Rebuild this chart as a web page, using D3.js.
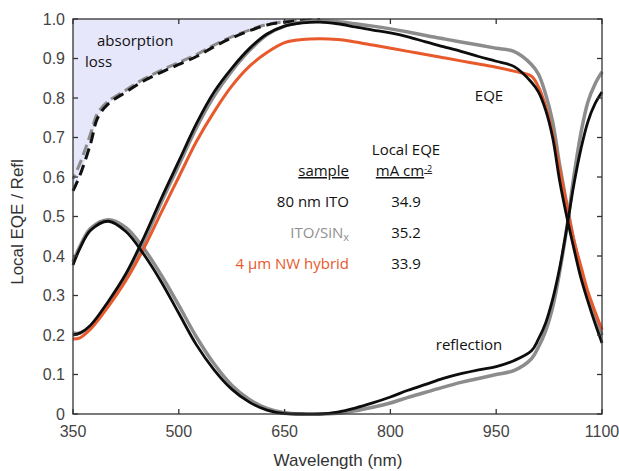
<!DOCTYPE html>
<html>
<head>
<meta charset="utf-8">
<script src="https://cdn.jsdelivr.net/npm/d3@7"></script>
<style>
  body { margin: 0; background: #fff; }
  svg { display: block; }
</style>
</head>
<body>
<div id="stage"></div>
<script>
// wavelength grid (nm) shared by the solid curves
const wl = [350, 360, 375, 400, 425, 450, 475, 500, 525, 550, 575, 600, 625, 650, 675, 700,
  725, 750, 775, 800, 825, 850, 875, 900, 925, 950, 975, 1000, 1010, 1020, 1030, 1040,
  1050, 1060, 1070, 1080, 1090, 1100];

// local EQE
const eqeITO = [0.20, 0.205, 0.225, 0.285, 0.355, 0.445, 0.545, 0.64, 0.735, 0.815, 0.875, 0.925,
  0.962, 0.982, 0.99, 0.992, 0.988, 0.98, 0.972, 0.965, 0.955, 0.942, 0.93, 0.918, 0.905, 0.893,
  0.88, 0.84, 0.815, 0.77, 0.70, 0.59, 0.50, 0.42, 0.345, 0.285, 0.23, 0.18];
const eqeSiN = [0.205, 0.205, 0.222, 0.28, 0.35, 0.435, 0.535, 0.63, 0.725, 0.805, 0.868, 0.92,
  0.96, 0.982, 0.992, 0.995, 0.993, 0.988, 0.982, 0.975, 0.967, 0.958, 0.95, 0.942, 0.934, 0.926,
  0.918, 0.885, 0.86, 0.81, 0.74, 0.63, 0.53, 0.44, 0.365, 0.30, 0.245, 0.20];
const eqeNW = [0.19, 0.193, 0.215, 0.272, 0.338, 0.418, 0.51, 0.60, 0.69, 0.765, 0.83, 0.88,
  0.915, 0.94, 0.948, 0.95, 0.948, 0.942, 0.934, 0.926, 0.918, 0.91, 0.902, 0.894, 0.886, 0.878,
  0.868, 0.855, 0.828, 0.78, 0.71, 0.62, 0.53, 0.44, 0.375, 0.31, 0.26, 0.213];

// reflection
const reflITO = [0.377, 0.42, 0.465, 0.488, 0.462, 0.405, 0.335, 0.255, 0.175, 0.112, 0.063, 0.03,
  0.01, 0.001, 0.0, 0.0, 0.005, 0.015, 0.028, 0.043, 0.06, 0.075, 0.09, 0.102, 0.112, 0.12,
  0.135, 0.16, 0.19, 0.23, 0.29, 0.37, 0.47, 0.58, 0.67, 0.74, 0.785, 0.815];
const reflSiN = [0.385, 0.425, 0.47, 0.492, 0.472, 0.42, 0.352, 0.275, 0.195, 0.127, 0.073, 0.037,
  0.014, 0.003, 0.0, 0.0, 0.002, 0.008, 0.017, 0.028, 0.042, 0.055, 0.068, 0.08, 0.09, 0.10,
  0.11, 0.14, 0.17, 0.21, 0.27, 0.36, 0.47, 0.60, 0.71, 0.79, 0.835, 0.866];

// absorption limit (dashed)
const limWl = [350, 360, 375, 385, 400, 425, 450, 475, 500, 525, 550, 575, 600, 625, 650, 675, 700];
const limITO = [0.565, 0.605, 0.685, 0.75, 0.785, 0.815, 0.843, 0.865, 0.885, 0.905, 0.93, 0.952,
  0.97, 0.985, 0.992, 0.996, 0.998];
const limSiN = [0.595, 0.635, 0.71, 0.762, 0.792, 0.82, 0.848, 0.87, 0.89, 0.91, 0.934, 0.955,
  0.972, 0.986, 0.993, 0.997, 0.998];

const xTicks = [350, 500, 650, 800, 950, 1100];
const yTicks = [0, 0.1, 0.2, 0.3, 0.4, 0.5, 0.6, 0.7, 0.8, 0.9, 1.0];

const tableRows = [
  {sample: '80 nm ITO', value: '34.9', color: '#111'},
  {sample: 'ITO/SiN', sub: 'x', value: '35.2', color: '#8f8f8f'},
  {sample: '4 µm NW hybrid', value: '33.9', color: '#e8592c'}
];

const W = 619, H = 471;
const x = d3.scaleLinear().domain([350, 1100]).range([73, 602]);
const y = d3.scaleLinear().domain([0, 1]).range([414, 19]);

const svg = d3.select('#stage').append('svg')
  .attr('width', W).attr('height', H);

const axisFont = '"Liberation Sans", Arial, sans-serif';
const noteFont = '"Open Sans", "Noto Sans", sans-serif';

// absorption loss shading
const limPts = limWl.map((w, i) => [w, limITO[i]]);
svg.append('path')
  .attr('d', d3.area()
    .x(d => x(d[0]))
    .y0(y(1))
    .y1(d => y(d[1]))
    .curve(d3.curveCatmullRom)(limPts))
  .attr('fill', '#e7e7fb');

const line = d3.line()
  .x(d => x(d[0]))
  .y(d => y(d[1]))
  .curve(d3.curveCatmullRom.alpha(0.5));

function pts(xs, ys) { return xs.map((w, i) => [w, ys[i]]); }

const g = svg.append('g');

// dashed limits
g.append('path').attr('d', line(pts(limWl, limSiN)))
  .attr('fill', 'none').attr('stroke', '#8c8c8c').attr('stroke-width', 3)
  .attr('stroke-dasharray', '11,5').attr('stroke-dashoffset', 6);
g.append('path').attr('d', line(pts(limWl, limITO)))
  .attr('fill', 'none').attr('stroke', '#111').attr('stroke-width', 3)
  .attr('stroke-dasharray', '11,6');

// gray curves
g.append('path').attr('d', line(pts(wl, reflSiN)))
  .attr('fill', 'none').attr('stroke', '#8c8c8c').attr('stroke-width', 3.5);
g.append('path').attr('d', line(pts(wl, eqeSiN)))
  .attr('fill', 'none').attr('stroke', '#8c8c8c').attr('stroke-width', 3.5);
// orange
g.append('path').attr('d', line(pts(wl, eqeNW)))
  .attr('fill', 'none').attr('stroke', '#e8592c').attr('stroke-width', 3);
// black
g.append('path').attr('d', line(pts(wl, reflITO)))
  .attr('fill', 'none').attr('stroke', '#0d0d0d').attr('stroke-width', 2.8);
g.append('path').attr('d', line(pts(wl, eqeITO)))
  .attr('fill', 'none').attr('stroke', '#0d0d0d').attr('stroke-width', 2.8);

// frame + inward ticks on all sides
const frame = svg.append('g').attr('stroke', '#333').attr('stroke-width', 1.3);
frame.append('rect')
  .attr('x', x(350)).attr('y', y(1))
  .attr('width', x(1100) - x(350)).attr('height', y(0) - y(1))
  .attr('fill', 'none');
xTicks.forEach(t => {
  frame.append('line').attr('x1', x(t)).attr('x2', x(t)).attr('y1', y(0)).attr('y2', y(0) - 5);
  frame.append('line').attr('x1', x(t)).attr('x2', x(t)).attr('y1', y(1)).attr('y2', y(1) + 5);
});
yTicks.forEach(t => {
  frame.append('line').attr('x1', x(350)).attr('x2', x(350) + 5).attr('y1', y(t)).attr('y2', y(t));
  frame.append('line').attr('x1', x(1100)).attr('x2', x(1100) - 5).attr('y1', y(t)).attr('y2', y(t));
});

// tick labels
svg.append('g').selectAll('text').data(xTicks).join('text')
  .attr('x', d => x(d)).attr('y', 437)
  .attr('text-anchor', 'middle')
  .style('font-family', axisFont).style('font-size', '16px').style('fill', '#444')
  .text(d => d);
svg.append('g').selectAll('text').data(yTicks).join('text')
  .attr('x', 65).attr('y', d => y(d)).attr('dy', '0.36em')
  .attr('text-anchor', 'end')
  .style('font-family', axisFont).style('font-size', '16px').style('fill', '#444')
  .text(d => d === 0 ? '0' : d.toFixed(1));

// axis titles
svg.append('text')
  .attr('x', 338).attr('y', 466)
  .attr('text-anchor', 'middle')
  .style('font-family', axisFont).style('font-size', '17px').style('fill', '#333')
  .text('Wavelength (nm)');
svg.append('text')
  .attr('transform', 'translate(23,222) rotate(-90)')
  .attr('text-anchor', 'middle')
  .style('font-family', axisFont).style('font-size', '17px').style('fill', '#333')
  .text('Local EQE / Refl');

// annotations
function note(tx, ty, txt, anchor, color) {
  return svg.append('text')
    .attr('x', tx).attr('y', ty)
    .attr('text-anchor', anchor || 'start')
    .style('font-family', noteFont).style('font-size', '15px')
    .style('fill', color || '#111')
    .text(txt);
}
note(97, 46, 'absorption');
note(85, 67, 'loss');
note(489, 101, 'EQE', 'middle');
note(469, 350, 'reflection', 'middle');

note(406, 155, 'Local EQE', 'middle');
note(349, 176, 'sample', 'end').style('text-decoration', 'underline');
const unit = note(404, 176, 'mA cm', 'middle').style('text-decoration', 'underline');
unit.append('tspan').attr('dy', -4).style('font-size', '9px').text('-2');

tableRows.forEach((r, i) => {
  const ty = 207 + i * 31;
  const t = note(349, ty, r.sample, 'end', r.color);
  if (r.sub) t.append('tspan').attr('dy', 3).style('font-size', '11px').text(r.sub);
  note(406, ty, r.value, 'middle');
});
</script>
</body>
</html>
